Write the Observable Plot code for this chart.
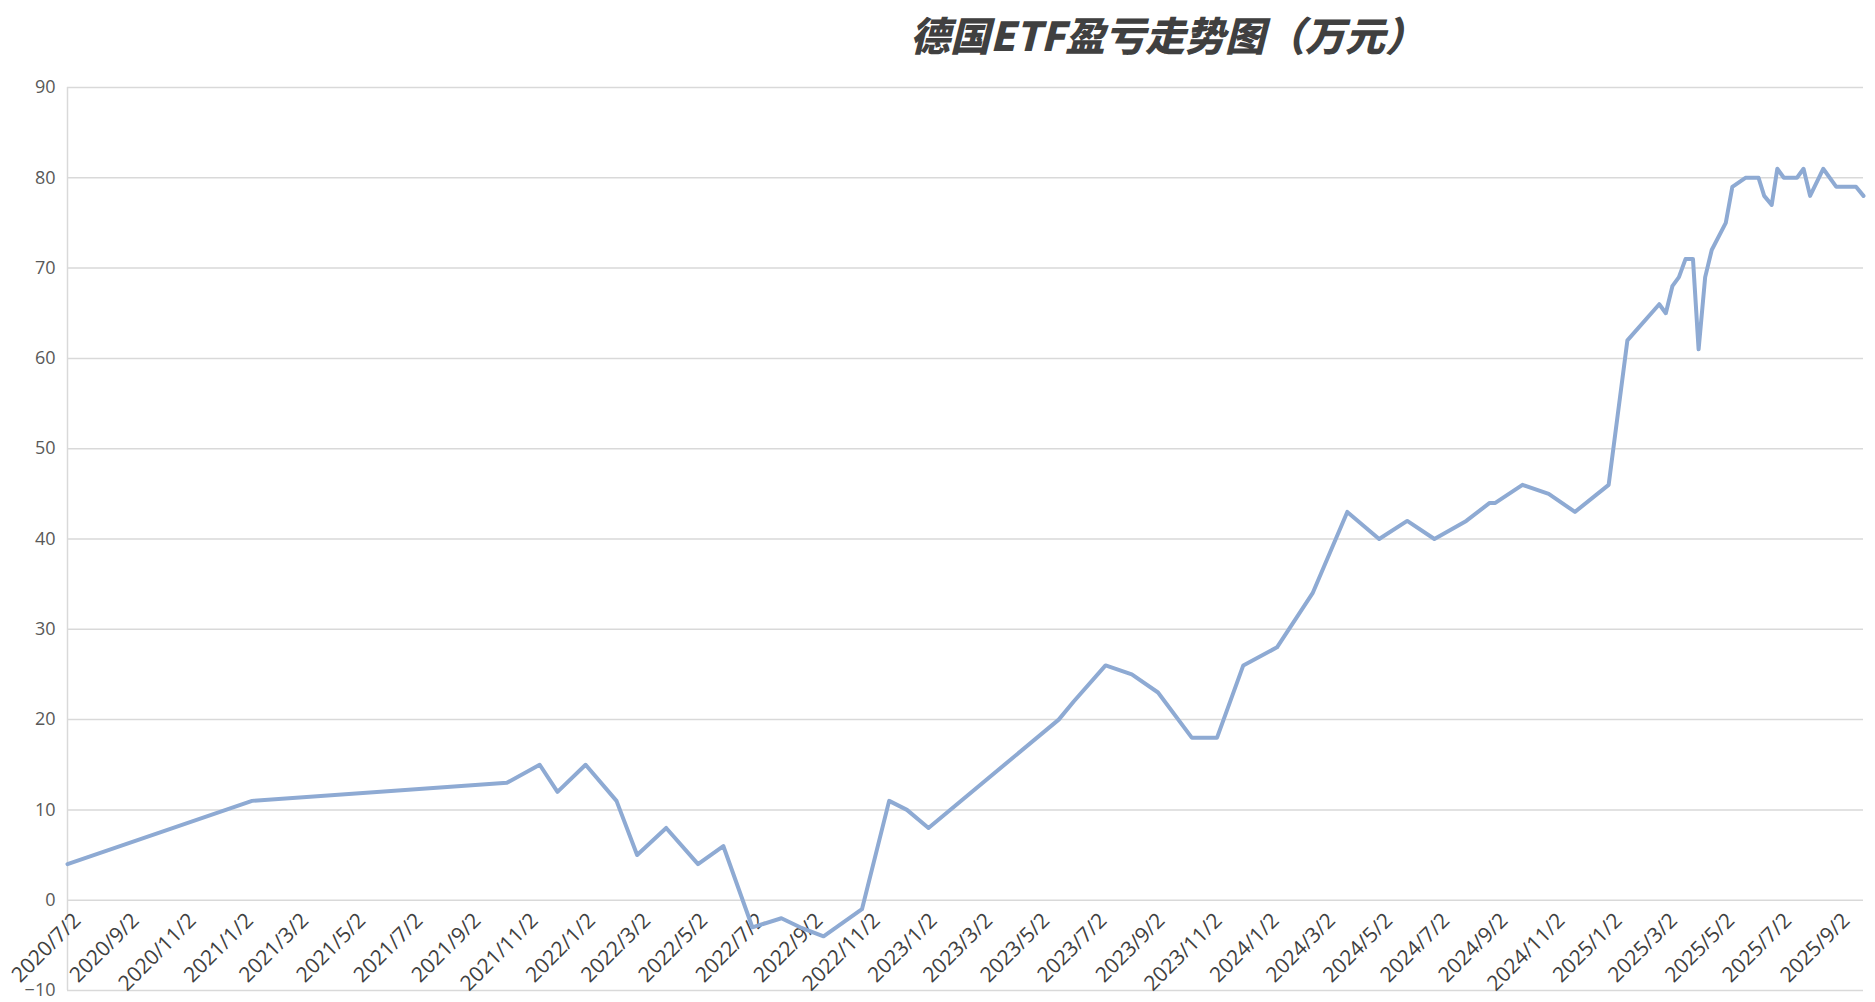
<!DOCTYPE html>
<html>
<head>
<meta charset="utf-8">
<script src="https://cdn.jsdelivr.net/npm/d3@7"></script>
<script src="https://cdn.jsdelivr.net/npm/@observablehq/plot@0.6"></script>
<style>
  body { margin: 0; background: #fff; }
  #wrap { position: relative; width: 1875px; height: 1002px; overflow: hidden; }
  #title { position: absolute; left: 910px; top: 6px; font-family: "Noto Sans CJK SC", sans-serif; font-weight: 900; font-style: italic; font-size: 40px; line-height: 56px; color: #404040; white-space: nowrap; z-index: 2; }
  #chart { position: absolute; left: 0; top: 0; }
</style>
</head>
<body>
<div id="wrap">
  <div id="title">德国ETF盈亏走势图（万元）</div>
  <div id="chart"></div>
</div>
<script>
// ---- data ----
const dates = ["2020-07-02","2021-01-15","2021-10-14","2021-11-18","2021-12-07","2022-01-06","2022-02-08","2022-03-02","2022-04-02","2022-05-06",
  "2022-06-02","2022-07-03","2022-08-03","2022-08-23","2022-09-17","2022-10-28","2022-11-26","2022-12-15","2023-01-07","2023-05-26",
  "2023-06-11","2023-07-15","2023-08-12","2023-09-09","2023-10-15","2023-11-11","2023-12-09","2024-01-14","2024-02-21","2024-03-29",
  "2024-05-02","2024-06-01","2024-06-30","2024-08-03","2024-08-28","2024-09-03","2024-10-02","2024-10-30","2024-11-27","2025-01-02",
  "2025-01-22","2025-02-25","2025-03-04","2025-03-11","2025-03-18","2025-03-25","2025-04-02","2025-04-08","2025-04-15","2025-04-22",
  "2025-05-07","2025-05-14","2025-05-28","2025-06-11","2025-06-17","2025-06-25","2025-07-01","2025-07-08","2025-07-22","2025-07-29",
  "2025-08-05","2025-08-19","2025-09-02","2025-09-23","2025-10-01"];
const profit = [4,11,13,15,12,15,11,5,8,4,
  6,-3,-2,-3,-4,-1,11,10,8,20,
  22,26,25,23,18,18,26,28,34,43,
  40,42,40,42,44,44,46,45,43,46,
  62,66,65,68,69,71,71,61,69,72,
  75,79,80,80,78,77,81,80,80,81,
  78,81,79,79,78];
const xTickLabels = ["2020/7/2","2020/9/2","2020/11/2","2021/1/2","2021/3/2","2021/5/2","2021/7/2","2021/9/2","2021/11/2",
  "2022/1/2","2022/3/2","2022/5/2","2022/7/2","2022/9/2","2022/11/2","2023/1/2","2023/3/2","2023/5/2","2023/7/2","2023/9/2","2023/11/2",
  "2024/1/2","2024/3/2","2024/5/2","2024/7/2","2024/9/2","2024/11/2","2025/1/2","2025/3/2","2025/5/2","2025/7/2","2025/9/2"];
const yTicks = [-10,0,10,20,30,40,50,60,70,80,90];

// ---- build tables ----
const series = dates.map((d, i) => ({date: new Date(d), value: profit[i]}));
const parseTick = d3.utcParse("%Y/%m/%d");
const xTicks = xTickLabels.map(s => ({label: s, date: parseTick(s)}));
const xDomain = [series[0].date, series[series.length - 1].date];

const chart = Plot.plot({
  width: 1875,
  height: 1002,
  marginLeft: 67,
  marginRight: 12,
  marginTop: 87,
  marginBottom: 12,
  style: {background: "#fff", color: "#595959", fontFamily: "'Open Sans', sans-serif", overflow: "visible"},
  x: {type: "utc", domain: xDomain, axis: null},
  y: {domain: [-10, 90], axis: null},
  marks: [
    Plot.gridY(yTicks, {stroke: "#d9d9d9", strokeOpacity: 1, strokeWidth: 1.5}),
    Plot.ruleX([xDomain[0]], {y1: -10, y2: 90, stroke: "#d9d9d9", strokeWidth: 1.5}),
    Plot.axisY(yTicks, {anchor: "left", tickSize: 0, tickPadding: 12, fontSize: 18, label: null}),
    Plot.text(xTicks, {x: "date", y: () => 0, text: "label", rotate: -45, textAnchor: "end", lineAnchor: "top",
      dx: 4, dy: 11, fontSize: 21, fill: "#404040"}),
    Plot.line(series, {x: "date", y: "value", stroke: "#8eaad3", strokeWidth: 4, strokeLinejoin: "round", strokeLinecap: "round"})
  ]
});
document.getElementById("chart").appendChild(chart);
</script>
</body>
</html>
